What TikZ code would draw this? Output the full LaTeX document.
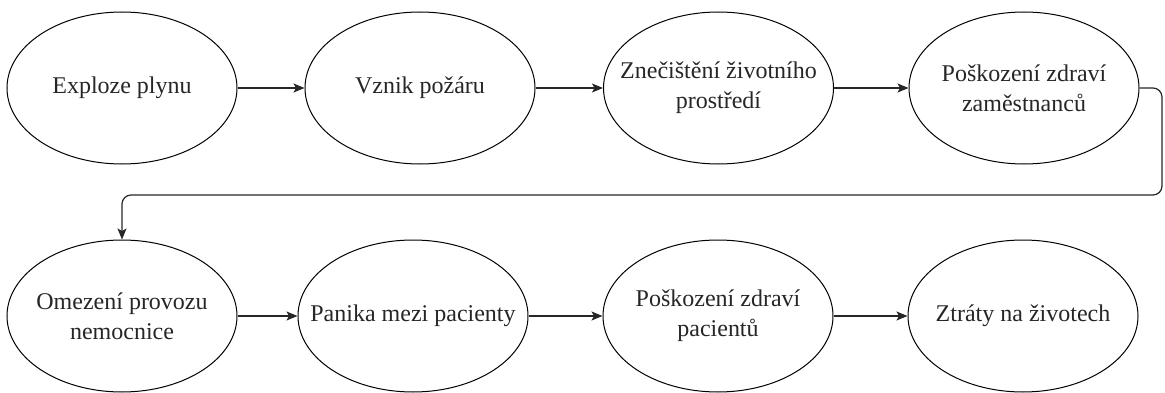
\documentclass[tikz,border=0pt]{standalone}
\usepackage{fontspec}
\setmainfont{Liberation Serif}
\newfontfamily\tnr{Liberation Serif}
\usetikzlibrary{shapes.geometric,arrows.meta}
\begin{document}
\begin{tikzpicture}[x=1pt,y=1pt,
  evt/.style={draw=black, line width=1pt, ellipse, minimum width=230pt, minimum height=152pt, inner sep=0pt},
  txt/.style={font=\tnr\fontsize{24}{30}\selectfont, align=center, text=black!85},
  arr/.style={draw=black!85, line width=1.2pt, -{Stealth[length=11pt,width=9pt,inset=2.5pt]}}
]
\useasboundingbox (0,0) rectangle (1165,392);
% top row
\node[evt, label={[txt]center:Exploze plynu}] (e1) at (122,304) {};
\node[evt, label={[txt]center:Vznik požáru}] (e2) at (420,304) {};
\node[evt, label={[txt]center:Znečištění životního\\prostředí}] (e3) at (718.5,304) {};
\node[evt, label={[txt]center:Poškození zdraví\\zaměstnanců}] (e4) at (1024,304) {};
% bottom row
\node[evt, label={[txt]center:Omezení provozu\\nemocnice}] (e5) at (122,76) {};
\node[evt, label={[txt]center:Panika mezi pacienty}] (e6) at (413,76) {};
\node[evt, label={[txt]center:Poškození zdraví\\pacientů}] (e7) at (718,76) {};
\node[evt, label={[txt]center:Ztráty na životech}] (e8) at (1023,76) {};
% connectors
\draw[arr] (e1) -- (e2);
\draw[arr] (e2) -- (e3);
\draw[arr] (e3) -- (e4);
\coordinate (turnR) at (1162,197);
\draw[arr, rounded corners=9pt] (e4.east) -| (turnR) -| (e5.north);
\draw[arr] (e5) -- (e6);
\draw[arr] (e6) -- (e7);
\draw[arr] (e7) -- (e8);
\end{tikzpicture}
\end{document}
